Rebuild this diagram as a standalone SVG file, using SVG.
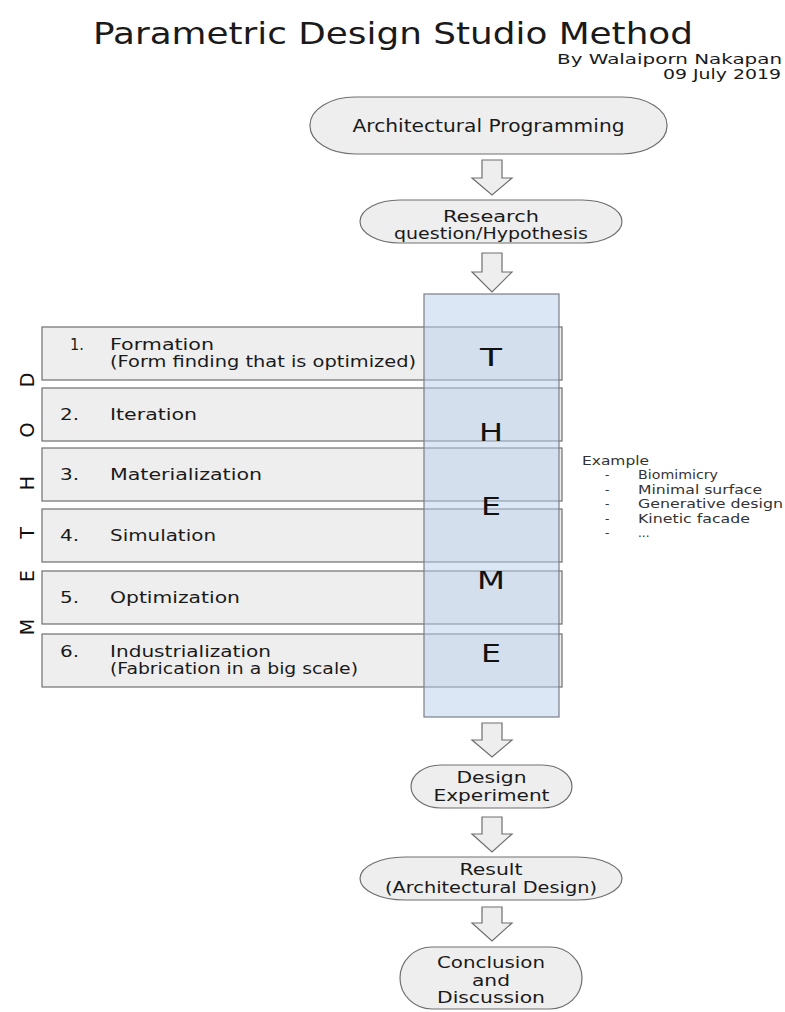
<svg xmlns="http://www.w3.org/2000/svg" width="785" height="1012" viewBox="0 0 785 1012">
  <style>
    text { font-family: "DejaVu Sans", "Liberation Sans", sans-serif; fill: #1a1a1a; }
    .t16 { font-size: 16px; }
    .t17 { font-size: 17px; }
    .t14 { font-size: 14px; }
    .mid { text-anchor: middle; }
    .pill { fill: #eeeeee; stroke: #6f6f6f; stroke-width: 1.2; }
    .box { fill: #eeeeee; stroke: #6f6f6f; stroke-width: 1.2; }
    .arrow { fill: #eeeeee; stroke: #6f6f6f; stroke-width: 1.2; stroke-linejoin: miter; }
    .theme { fill: #b9cfeb; fill-opacity: 0.5; stroke: #7a7f88; stroke-width: 1.2; }
    .big { font-size: 24px; text-anchor: middle; fill: #111; }
    .vert { font-size: 19px; text-anchor: middle; fill: #111; }
    .ex { font-size: 12px; fill: #333; }
  </style>

  <g id="title">
    <text x="393" y="44" class="mid" style="font-size:30px" textLength="600" lengthAdjust="spacingAndGlyphs">Parametric Design Studio Method</text>
    <text x="782" y="64" class="t14" text-anchor="end" textLength="225" lengthAdjust="spacingAndGlyphs">By Walaiporn Nakapan</text>
    <text x="781" y="79" class="t14" text-anchor="end" textLength="118" lengthAdjust="spacingAndGlyphs">09 July 2019</text>
  </g>

  <g id="connectors">
    <path class="arrow" d="M482,160 H502 V178 H512 L492,195 L472,178 H482 Z"/>
    <path class="arrow" d="M482,253 H502 V272 H512 L492,292 L472,272 H482 Z"/>
    <path class="arrow" d="M482,723 H502 V740 H512 L492,757 L472,740 H482 Z"/>
    <path class="arrow" d="M482,817 H502 V834 H512 L492,852 L472,834 H482 Z"/>
    <path class="arrow" d="M482,907 H502 V923 H512 L492,941 L472,923 H482 Z"/>
  </g>

  <g id="node-programming">
    <rect class="pill" x="310" y="97" width="357" height="57" rx="45" ry="28"/>
    <text x="488.5" y="132" class="t17 mid" textLength="272" lengthAdjust="spacingAndGlyphs">Architectural Programming</text>
  </g>

  <g id="node-research">
    <rect class="pill" x="360" y="200" width="262" height="43" rx="40" ry="21.5"/>
    <text x="491" y="222" class="t16 mid" textLength="96" lengthAdjust="spacingAndGlyphs">Research</text>
    <text x="491" y="239" class="t16 mid" textLength="194" lengthAdjust="spacingAndGlyphs">question/Hypothesis</text>
  </g>

  <g id="method-label">
    <text class="vert" transform="translate(27,380) rotate(-90)" y="7">D</text>
    <text class="vert" transform="translate(27,430) rotate(-90)" y="7">O</text>
    <text class="vert" transform="translate(27,483) rotate(-90)" y="7">H</text>
    <text class="vert" transform="translate(27,533) rotate(-90)" y="7">T</text>
    <text class="vert" transform="translate(27,576) rotate(-90)" y="7">E</text>
    <text class="vert" transform="translate(27,627) rotate(-90)" y="7">M</text>
  </g>

  <g id="method-1">
    <rect class="box" x="42" y="327" width="520" height="53"/>
    <text x="70" y="350" class="t16" textLength="14" lengthAdjust="spacingAndGlyphs">1.</text>
    <text x="110" y="350" class="t16" textLength="104" lengthAdjust="spacingAndGlyphs">Formation</text>
    <text x="110" y="367" class="t16" textLength="306" lengthAdjust="spacingAndGlyphs">(Form finding that is optimized)</text>
  </g>
  <g id="method-2">
    <rect class="box" x="42" y="388" width="520" height="53"/>
    <text x="60" y="420" class="t16" textLength="19" lengthAdjust="spacingAndGlyphs">2.</text>
    <text x="110" y="420" class="t16" textLength="87" lengthAdjust="spacingAndGlyphs">Iteration</text>
  </g>
  <g id="method-3">
    <rect class="box" x="42" y="448" width="520" height="53"/>
    <text x="60" y="480" class="t16" textLength="19" lengthAdjust="spacingAndGlyphs">3.</text>
    <text x="110" y="480" class="t16" textLength="152" lengthAdjust="spacingAndGlyphs">Materialization</text>
  </g>
  <g id="method-4">
    <rect class="box" x="42" y="509" width="520" height="53"/>
    <text x="60" y="541" class="t16" textLength="19" lengthAdjust="spacingAndGlyphs">4.</text>
    <text x="110" y="541" class="t16" textLength="106" lengthAdjust="spacingAndGlyphs">Simulation</text>
  </g>
  <g id="method-5">
    <rect class="box" x="42" y="571" width="520" height="53"/>
    <text x="60" y="603" class="t16" textLength="19" lengthAdjust="spacingAndGlyphs">5.</text>
    <text x="110" y="603" class="t16" textLength="130" lengthAdjust="spacingAndGlyphs">Optimization</text>
  </g>
  <g id="method-6">
    <rect class="box" x="42" y="634" width="520" height="53"/>
    <text x="60" y="657" class="t16" textLength="19" lengthAdjust="spacingAndGlyphs">6.</text>
    <text x="110" y="657" class="t16" textLength="161" lengthAdjust="spacingAndGlyphs">Industrialization</text>
    <text x="110" y="674" class="t16" textLength="248" lengthAdjust="spacingAndGlyphs">(Fabrication in a big scale)</text>
  </g>

  <g id="theme">
    <rect class="theme" x="424" y="294" width="135" height="423"/>
    <text class="big" x="491" y="366" textLength="22" lengthAdjust="spacingAndGlyphs">T</text>
    <text class="big" x="491" y="441" textLength="24" lengthAdjust="spacingAndGlyphs">H</text>
    <text class="big" x="491" y="515" textLength="20" lengthAdjust="spacingAndGlyphs">E</text>
    <text class="big" x="491" y="589" textLength="28" lengthAdjust="spacingAndGlyphs">M</text>
    <text class="big" x="491" y="662" textLength="20" lengthAdjust="spacingAndGlyphs">E</text>
  </g>

  <g id="examples">
    <text class="ex" x="582" y="465" textLength="67" lengthAdjust="spacingAndGlyphs">Example</text>
    <text class="ex" x="605" y="479">-</text>
    <text class="ex" x="638" y="479" textLength="80" lengthAdjust="spacingAndGlyphs">Biomimicry</text>
    <text class="ex" x="605" y="494">-</text>
    <text class="ex" x="638" y="494" textLength="124" lengthAdjust="spacingAndGlyphs">Minimal surface</text>
    <text class="ex" x="605" y="508">-</text>
    <text class="ex" x="638" y="508" textLength="145" lengthAdjust="spacingAndGlyphs">Generative design</text>
    <text class="ex" x="605" y="523">-</text>
    <text class="ex" x="638" y="523" textLength="112" lengthAdjust="spacingAndGlyphs">Kinetic facade</text>
    <text class="ex" x="605" y="537">-</text>
    <text class="ex" x="638" y="537">...</text>
  </g>

  <g id="node-experiment">
    <rect class="pill" x="411" y="765" width="161" height="43" rx="30" ry="21.5"/>
    <text x="491.5" y="783" class="t16 mid" textLength="70" lengthAdjust="spacingAndGlyphs">Design</text>
    <text x="491.5" y="801" class="t16 mid" textLength="116" lengthAdjust="spacingAndGlyphs">Experiment</text>
  </g>

  <g id="node-result">
    <rect class="pill" x="360" y="857" width="262" height="43" rx="45" ry="21.5"/>
    <text x="491" y="875" class="t16 mid" textLength="63" lengthAdjust="spacingAndGlyphs">Result</text>
    <text x="491" y="893" class="t16 mid" textLength="212" lengthAdjust="spacingAndGlyphs">(Architectural Design)</text>
  </g>

  <g id="node-conclusion">
    <rect class="pill" x="400" y="947" width="182" height="62" rx="32" ry="31"/>
    <text x="491" y="968" class="t16 mid" textLength="108" lengthAdjust="spacingAndGlyphs">Conclusion</text>
    <text x="491" y="986" class="t16 mid" textLength="38" lengthAdjust="spacingAndGlyphs">and</text>
    <text x="491" y="1003" class="t16 mid" textLength="108" lengthAdjust="spacingAndGlyphs">Discussion</text>
  </g>
</svg>
